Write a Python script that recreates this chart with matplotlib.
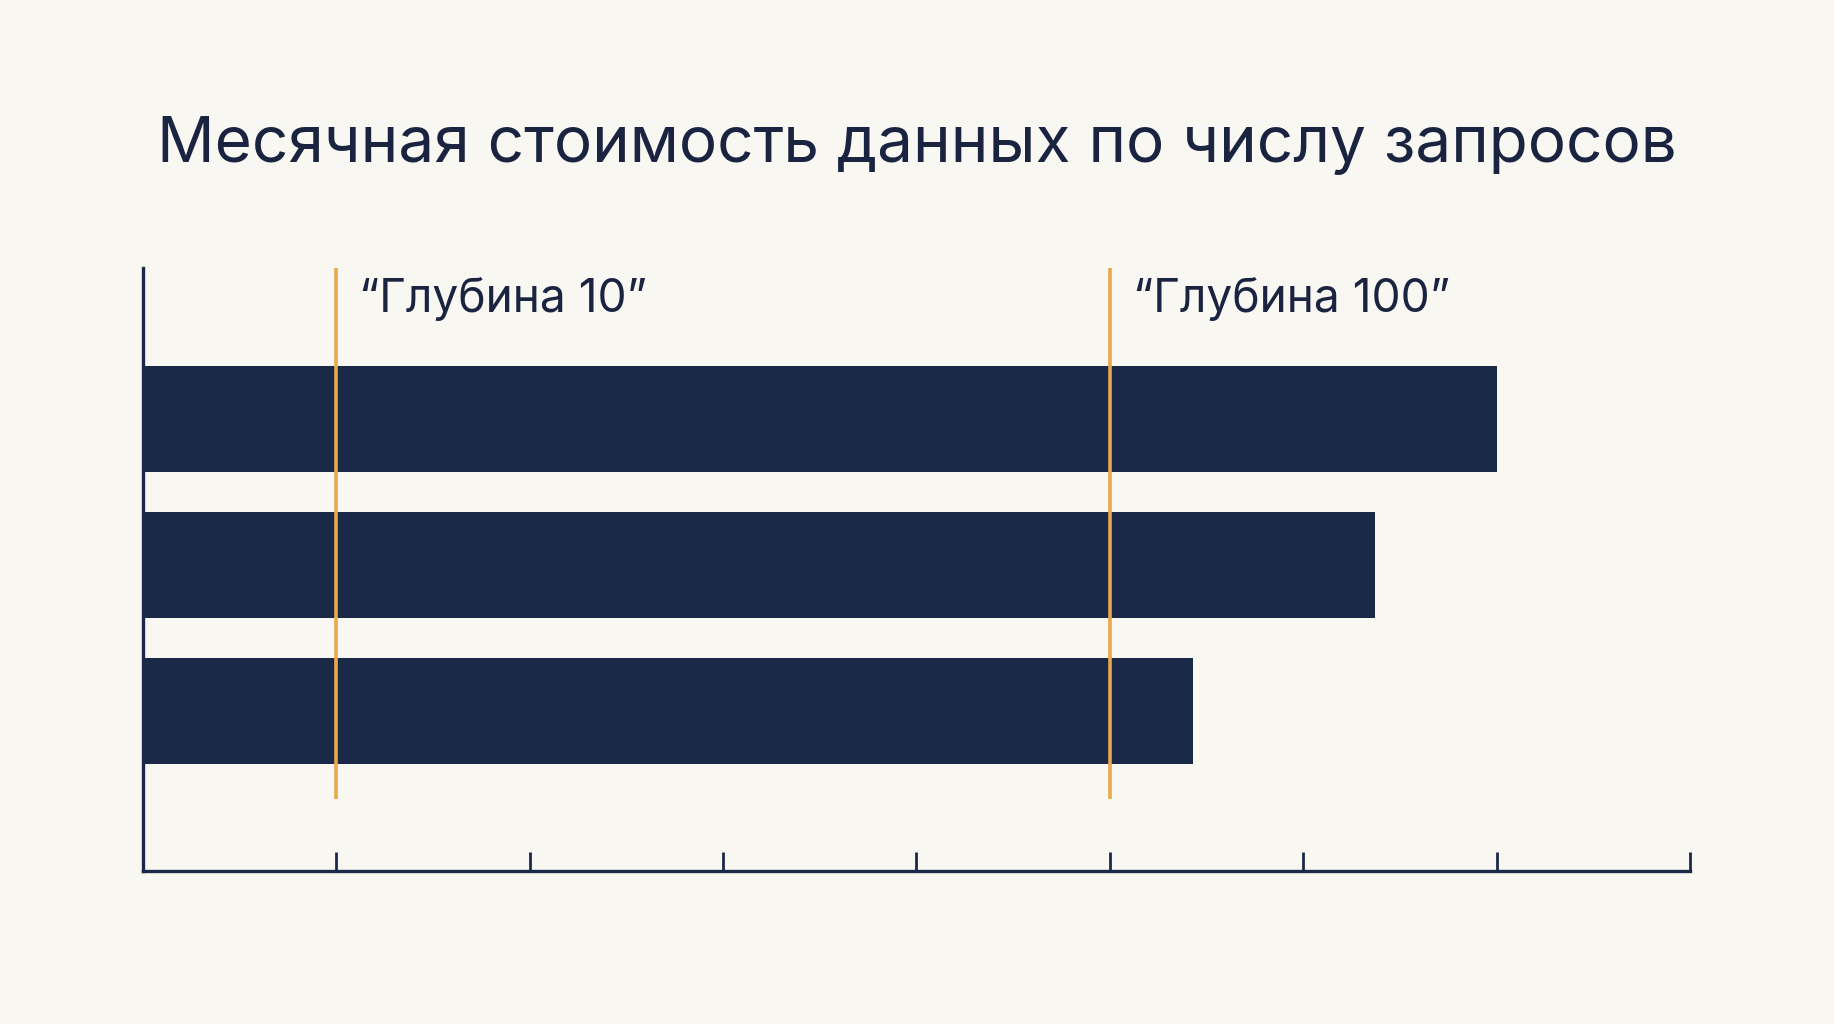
import matplotlib
matplotlib.use('Agg')
import matplotlib.pyplot as plt

# Данные графика
TITLE = "Месячная стоимость данных по числу запросов"
bar_values = [7.0, 6.37, 5.43]          # длины полос (условные единицы оси)
marker_positions = [1, 5]               # положения вертикальных отметок
marker_labels = ["“Глубина 10”", "“Глубина 100”"]
x_ticks = [1, 2, 3, 4, 5, 6, 7, 8]

BG = "#f8f7f2"
NAVY = "#1b2949"
ORANGE = "#eaa84a"
TEXT = "#1a2440"

plt.rcParams['font.family'] = ['Inter', 'DejaVu Sans']

fig = plt.figure(figsize=(18.34, 10.24), dpi=100, facecolor=BG)
ax = fig.add_axes([0.0778, 0.1499, 0.8437, 0.5883])
ax.set_facecolor(BG)

# Полосы
y_pos = list(range(len(bar_values)))
ax.barh(y_pos, bar_values, height=0.726, color=NAVY, zorder=2)

# Вертикальные отметки с подписями
for xm, label in zip(marker_positions, marker_labels):
    ax.vlines(xm, 2.60, -1.03, color=ORANGE, linewidth=2.6, zorder=3)
    ax.text(xm + 0.12, -0.73, label, fontsize=33.2, color=TEXT,
            ha='left', va='baseline', zorder=4)

ax.set_xlim(0, 8)
ax.set_ylim(3.09, -1.03)

# Оси: только левая и нижняя линии, засечки внутрь
for side in ['top', 'right']:
    ax.spines[side].set_visible(False)
for side in ['left', 'bottom']:
    ax.spines[side].set_color(NAVY)
    ax.spines[side].set_linewidth(2.4)
ax.set_xticks(x_ticks)
ax.set_xticklabels([])
ax.set_yticks([])
ax.tick_params(axis='x', direction='in', length=14, width=2.0, color=NAVY)

fig.text(0.5, 0.842, TITLE, fontsize=46, color=TEXT, ha='center', va='baseline')

plt.savefig("out.png", dpi=100, facecolor=BG)
